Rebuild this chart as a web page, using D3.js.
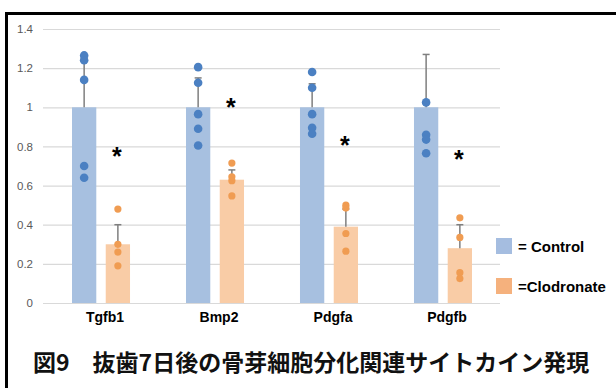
<!DOCTYPE html>
<html><head><meta charset="utf-8">
<script src="https://cdn.jsdelivr.net/npm/d3@7"></script>
<style>html,body{margin:0;padding:0;background:#fff;}svg{display:block;}</style>
</head><body>
<svg id="chart" width="616" height="388"></svg>
<script>
// ---- data ----
const categories = ["Tgfb1", "Bmp2", "Pdgfa", "Pdgfb"];
const groups = ["Control", "Clodronate"];
const legendLabels = ["= Control", "=Clodronate"];
const controlMeans = [1, 1, 1, 1];
const clodronateMeans = [0.30, 0.63, 0.39, 0.28];
const controlErrTop = [1.25, 1.15, 1.12, 1.27];
const clodronateErrTop = [0.40, 0.68, 0.48, 0.40];
const controlPoints = [
  [1.265, 1.24, 1.14, 0.70, 0.64],
  [1.205, 1.125, 0.965, 0.89, 0.805],
  [1.18, 1.10, 0.965, 0.895, 0.865],
  [1.025, 0.86, 0.835, 0.765]
];
const clodronatePoints = [
  [0.48, 0.30, 0.26, 0.19],
  [0.715, 0.645, 0.625, 0.547],
  [0.50, 0.485, 0.355, 0.265],
  [0.435, 0.335, 0.155, 0.125]
];
const asteriskLevels = [0.77, 1.02, 0.83, 0.755];
const yTicks = [0, 0.2, 0.4, 0.6, 0.8, 1, 1.2, 1.4];
const title = "図9　抜歯7日後の骨芽細胞分化関連サイトカイン発現";

// ---- layout ----
const svg = d3.select("#chart");
svg.append("rect").attr("width", 616).attr("height", 388).attr("fill", "#fff");

const plotLeft = 43, plotRight = 500;
const y = d3.scaleLinear().domain([0, 1.4]).range([303, 29]);
const x = d3.scaleBand().domain(categories).range([72, 472]).paddingInner(0.491).paddingOuter(0);
const xs = d3.scaleBand().domain(groups).range([0, x.bandwidth()]).paddingInner(0.28).paddingOuter(0);

const colors = {
  Control: {bar: "#a7c0e0", dot: "#4b80c2", legend: "#a5bde0"},
  Clodronate: {bar: "#f9cca6", dot: "#f09c52", legend: "#f5b17d"}
};

// gridlines + y axis labels
const yAxis = d3.axisLeft(y).tickValues(yTicks).tickFormat(d3.format("~g")).tickSize(-(plotRight - plotLeft)).tickPadding(10);
const gy = svg.append("g").attr("transform", `translate(${plotLeft},0)`).call(yAxis);
gy.select(".domain").remove();
gy.selectAll(".tick line").attr("stroke", "#d9d9d9").attr("stroke-width", 1.2);
gy.selectAll(".tick text").attr("fill", "#595959").attr("font-family", "Liberation Sans, Arial, sans-serif").attr("font-size", 11.5);

// x axis labels
const xAxis = d3.axisBottom(x).tickSize(0).tickPadding(0);
const gx = svg.append("g").attr("transform", `translate(4,${312})`).call(xAxis);
gx.select(".domain").remove();
gx.selectAll(".tick text").attr("fill", "#000").attr("font-family", "Liberation Sans, Arial, sans-serif")
  .attr("font-size", 14).attr("font-weight", "bold").attr("dy", "0.71em");

// build records
const rows = categories.map((c, i) => ({
  cat: c,
  series: [
    {g: "Control", mean: controlMeans[i], err: controlErrTop[i], pts: controlPoints[i]},
    {g: "Clodronate", mean: clodronateMeans[i], err: clodronateErrTop[i], pts: clodronatePoints[i]}
  ],
  star: asteriskLevels[i]
}));

const cg = svg.append("g").selectAll("g").data(rows).join("g")
  .attr("transform", d => `translate(${x(d.cat)},0)`);

const sg = cg.selectAll("g.s").data(d => d.series).join("g").attr("class", "s")
  .attr("transform", d => `translate(${xs(d.g)},0)`);

// bars
sg.append("rect")
  .attr("x", 0).attr("width", xs.bandwidth())
  .attr("y", d => y(d.mean)).attr("height", d => y(0) - y(d.mean))
  .attr("fill", d => colors[d.g].bar);

// error bars
const bw = xs.bandwidth();
sg.append("line").attr("x1", bw / 2).attr("x2", bw / 2)
  .attr("y1", d => y(d.mean)).attr("y2", d => y(d.err))
  .attr("stroke", "#7f7f7f").attr("stroke-width", 1.5);
sg.append("line").attr("x1", bw / 2 - 3.5).attr("x2", bw / 2 + 3.5)
  .attr("y1", d => y(d.err)).attr("y2", d => y(d.err))
  .attr("stroke", "#7f7f7f").attr("stroke-width", 1.5);

// points
sg.selectAll("circle").data(d => d.pts.map(v => ({v, g: d.g}))).join("circle")
  .attr("cx", bw / 2).attr("cy", d => y(d.v))
  .attr("r", d => d.g === "Control" ? 4.3 : 3.6)
  .attr("fill", d => colors[d.g].dot);

// asterisks
cg.append("text")
  .attr("x", xs("Clodronate") + bw / 2 - 1)
  .attr("y", d => y(d.star) + 13)
  .attr("text-anchor", "middle")
  .attr("font-family", "Liberation Sans, Arial, sans-serif")
  .attr("font-weight", "bold").attr("font-size", 25)
  .text("*");

// legend
const lg = svg.append("g").attr("transform", "translate(496,238)");
const li = lg.selectAll("g").data(groups).join("g").attr("transform", (d, i) => `translate(0,${i * 40})`);
li.append("rect").attr("width", 16).attr("height", 16).attr("fill", d => colors[d].legend);
li.append("text").attr("x", 22).attr("y", 13.5)
  .attr("font-family", "Liberation Sans, Arial, sans-serif").attr("font-weight", "bold").attr("font-size", 15)
  .text((d, i) => legendLabels[i]);

// title
svg.append("text").attr("x", 33).attr("y", 371)
  .attr("font-family", "Noto Sans CJK JP, sans-serif").attr("font-weight", "bold").attr("font-size", 23)
  .attr("fill", "#111")
  .text(title);

// frame
svg.append("path").attr("d", "M616,13.5 H6.5 V388").attr("fill", "none").attr("stroke", "#000").attr("stroke-width", 3);
</script>
</body></html>
